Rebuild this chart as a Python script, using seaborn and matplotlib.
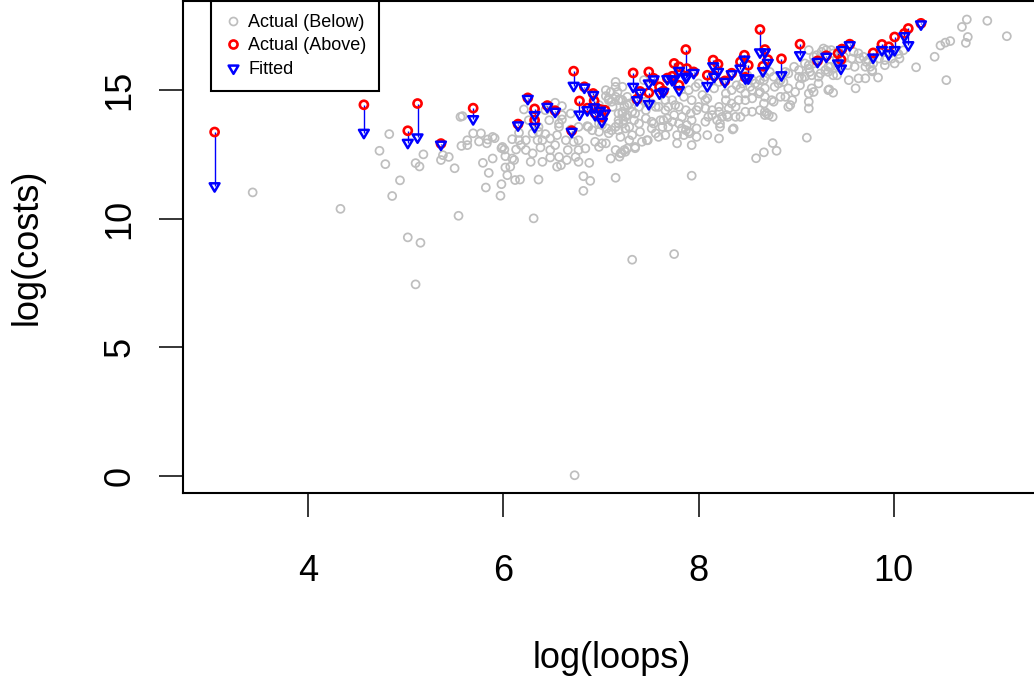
import numpy as np
import pandas as pd
import matplotlib
matplotlib.use("Agg")
import matplotlib.pyplot as plt
import seaborn as sns
from matplotlib.lines import Line2D
from matplotlib.path import Path

# ---------------- data (log scale values) ----------------
below_left = [
    (3.43, 11.02), (4.33, 10.38), (4.83, 13.29), (4.73, 12.64), (4.79, 12.12), (4.94, 11.49),
    (4.86, 10.88), (5.18, 12.50), (5.10, 12.16), (5.14, 12.03), (5.02, 9.27), (5.15, 9.06),
    (5.10, 7.44), (5.38, 12.47), (5.44, 12.40), (5.36, 12.28), (5.50, 11.96), (5.54, 10.11),
    (5.56, 13.96), (5.58, 13.99), (5.57, 12.83), (5.63, 13.05), (5.63, 12.86), (5.69, 13.32),
    (5.77, 13.32), (5.75, 13.00), (5.83, 12.93), (5.91, 13.13), (5.84, 13.08), (5.79, 12.17),
    (5.85, 11.78), (5.82, 11.21), (5.98, 11.34), (5.97, 10.89), (5.98, 12.74), (5.99, 12.79),
    (5.89, 12.34), (5.89, 13.18),
]
below_outliers = [
    (6.31, 10.01), (7.32, 8.40), (7.75, 8.62), (6.73, 0.01), (7.15, 11.59), (7.93, 11.67),
    (8.59, 12.35), (8.67, 12.58), (8.80, 12.64), (8.76, 12.94), (7.19, 12.41), (7.25, 12.60),
    (7.21, 12.56), (7.35, 12.74), (7.01, 12.93), (7.42, 12.99), (7.48, 13.05), (9.11, 13.15),
]
below_core_a = [
    (6.01, 12.69), (6.09, 13.09), (6.21, 14.25), (6.16, 13.34), (6.18, 12.86), (6.23, 12.67),
    (6.13, 12.69), (6.02, 12.43), (6.11, 12.28), (6.02, 11.99), (6.07, 12.02), (6.04, 11.69),
    (6.12, 11.50), (6.17, 11.52), (6.28, 12.21), (6.36, 11.52), (6.30, 12.54), (6.38, 12.77),
    (6.35, 13.05), (6.43, 13.29), (6.48, 13.12), (6.55, 13.25), (6.48, 12.67), (6.53, 12.86),
    (6.40, 12.21), (6.48, 12.38), (6.57, 12.40), (6.55, 12.02), (6.59, 12.08), (6.53, 14.51),
    (6.60, 14.38), (6.60, 13.86), (6.64, 13.05), (6.69, 13.47), (6.72, 12.99), (6.77, 13.05),
    (6.66, 12.67), (6.77, 12.67), (6.74, 12.40), (6.84, 12.73), (6.65, 12.28), (6.77, 12.21),
    (6.82, 11.65), (6.89, 11.47), (6.82, 11.08), (6.88, 12.17), (6.86, 13.60), (6.91, 13.44),
    (6.98, 13.38), (7.01, 13.64), (7.06, 13.51), (6.94, 12.99), (6.98, 12.79), (7.05, 12.93),
    (7.08, 13.32), (7.11, 13.44), (7.15, 13.57), (7.18, 13.70), (7.23, 13.83), (7.27, 14.03),
    (7.25, 13.51), (7.20, 13.18), (7.24, 12.67), (7.15, 12.67), (7.10, 12.34), (6.98, 14.42),
    (7.05, 14.77), (7.10, 14.93), (7.15, 15.13), (7.11, 14.55), (7.20, 14.64), (7.24, 14.38),
    (7.22, 14.16), (6.57, 13.70), (6.26, 13.83), (6.60, 14.03), (6.36, 13.38), (6.09, 12.34),
    (7.15, 15.32), (7.22, 15.13), (7.27, 14.74), (7.17, 14.93), (7.08, 14.68), (7.05, 15.00),
    (6.43, 14.22), (6.47, 13.83), (6.57, 13.57), (6.36, 13.57), (6.30, 13.32), (6.23, 13.05),
    (6.16, 13.05), (6.40, 13.05), (6.69, 14.09), (6.77, 13.57), (6.87, 13.57), (6.98, 13.70),
    (7.08, 14.61), (7.15, 14.74), (7.22, 14.61), (7.12, 14.35), (7.18, 14.09),
]
below_core_b = [
    (7.18, 14.61), (7.22, 14.09), (7.27, 14.42), (7.32, 14.16), (7.39, 14.35), (7.44, 15.39),
    (7.46, 14.55), (7.56, 14.35), (7.66, 14.61), (7.69, 14.35), (7.76, 14.42), (7.85, 14.74),
    (7.90, 15.00), (7.97, 15.13), (8.00, 15.26), (8.04, 14.81), (8.09, 14.68), (8.16, 15.07),
    (8.21, 15.32), (8.28, 14.87), (8.34, 15.00), (8.39, 15.19), (8.45, 15.26), (8.53, 15.13),
    (8.58, 15.26), (8.63, 15.39), (8.68, 15.52), (8.55, 14.68), (8.62, 14.87), (8.67, 14.48),
    (8.68, 14.03), (8.63, 14.22), (8.55, 14.16), (8.48, 14.61), (8.38, 14.35), (8.31, 14.29),
    (8.21, 14.16), (8.14, 14.03), (8.07, 14.29), (7.98, 14.22), (7.92, 14.09), (7.83, 13.96),
    (7.75, 14.03), (7.68, 13.90), (7.61, 13.83), (7.52, 13.77), (7.46, 13.90), (7.39, 13.70),
    (7.34, 13.83), (7.29, 13.57), (7.23, 13.70), (7.29, 13.05), (7.35, 12.79), (7.47, 13.05),
    (7.40, 13.38), (7.54, 13.70), (7.63, 13.57), (7.56, 13.32), (7.64, 13.83), (7.69, 13.57),
    (7.78, 13.25), (7.87, 13.44), (7.85, 13.25), (7.90, 13.38), (7.80, 13.70), (7.88, 13.64),
    (7.98, 13.51), (7.93, 13.83), (8.07, 13.77), (8.10, 13.96), (8.19, 13.83), (8.24, 13.96),
    (8.29, 14.03), (8.38, 13.96), (8.22, 13.57), (8.36, 13.51), (7.98, 13.18), (8.09, 13.25),
    (8.21, 13.12), (7.78, 12.93), (7.93, 12.86), (7.83, 13.51), (7.73, 13.77), (7.18, 13.83),
    (7.18, 13.44), (7.20, 12.54), (7.27, 12.73), (7.32, 13.25), (7.52, 13.51), (7.59, 13.18),
    (7.66, 13.25), (7.91, 13.32), (8.22, 13.70), (8.30, 13.96), (8.35, 13.47), (8.50, 15.58),
    (8.55, 15.39), (7.29, 14.48), (7.25, 13.96), (7.35, 14.09), (7.46, 14.22), (7.52, 14.48),
    (7.59, 14.35), (7.66, 14.22), (7.73, 14.61), (7.80, 14.35), (7.87, 14.22), (7.93, 14.61),
    (8.00, 14.35), (8.07, 14.61), (8.14, 14.22), (8.21, 14.35), (8.28, 14.61), (8.34, 14.48),
    (8.41, 14.61), (8.48, 14.87), (8.55, 15.00), (8.48, 14.16), (8.43, 13.96), (8.43, 15.07),
]
below_core_c = [
    (9.13, 16.56), (9.21, 16.36), (9.26, 16.49), (9.31, 16.56), (9.38, 16.43), (9.42, 16.23),
    (9.49, 16.30), (9.59, 16.49), (9.64, 16.43), (9.69, 16.30), (9.74, 16.17), (9.79, 16.04),
    (9.71, 15.91), (9.78, 15.78), (9.71, 15.46), (9.61, 15.07), (9.54, 15.39), (9.38, 14.90),
    (9.34, 15.03), (9.30, 15.78), (9.25, 15.65), (9.16, 15.58), (9.13, 15.84), (9.09, 16.04),
    (9.18, 16.04), (9.35, 15.91), (9.42, 15.58), (9.23, 15.26), (9.16, 15.07), (9.13, 14.87),
    (9.13, 14.55), (9.13, 14.29), (8.96, 14.61), (8.94, 14.42), (9.06, 15.46), (9.03, 15.78),
    (8.98, 15.91), (8.92, 15.65), (8.87, 15.32), (8.84, 14.74), (8.78, 15.13), (8.77, 14.55),
    (8.68, 15.07), (8.63, 14.93), (8.72, 14.03), (8.68, 14.16), (8.76, 13.96), (8.99, 14.93),
    (9.04, 15.19), (9.78, 15.73), (9.84, 15.49), (9.72, 16.10), (9.76, 15.91), (9.91, 16.17),
    (9.98, 16.23), (9.28, 16.62), (9.36, 16.56), (9.33, 15.00), (10.05, 16.40), (10.10, 16.55),
    (9.18, 16.30), (9.13, 15.97), (9.03, 15.52), (9.09, 15.52), (9.14, 15.71), (9.23, 15.52),
    (9.33, 15.71), (9.38, 15.58), (9.33, 15.91), (9.43, 15.91), (9.53, 15.97), (9.60, 15.91),
    (9.57, 16.23), (9.65, 16.23), (9.64, 15.46), (8.89, 15.71), (8.84, 15.39), (8.77, 15.52),
    (8.73, 15.71), (8.67, 15.39), (8.82, 15.26), (8.92, 15.07), (8.89, 14.74), (9.18, 14.93),
    (8.92, 14.35), (8.75, 14.61), (8.68, 14.74), (8.70, 14.09), (9.85, 16.23), (9.91, 15.97),
    (10.01, 16.04), (10.06, 16.23), (9.96, 16.43),
]
below_right = [
    (10.75, 17.75), (10.70, 17.46), (10.96, 17.70), (11.16, 17.10), (10.76, 17.07),
    (10.74, 16.84), (10.58, 16.91), (10.53, 16.85), (10.48, 16.74), (10.42, 16.30),
    (10.23, 15.89), (10.54, 15.39),
]

above_loops = [3.04, 4.57, 5.02, 5.12, 5.36, 5.69, 6.15, 6.25, 6.32, 6.32, 6.45, 6.53, 6.70,
               6.72, 6.78, 6.83, 6.86, 6.92, 6.93, 6.94, 6.99, 7.01, 7.04, 7.33, 7.37, 7.40,
               7.49, 7.49, 7.54, 7.60, 7.64, 7.68, 7.73, 7.75, 7.80, 7.80, 7.87, 7.88, 7.95,
               8.09, 8.15, 8.16, 8.20, 8.27, 8.34, 8.43, 8.47, 8.48, 8.51, 8.63, 8.66, 8.68,
               8.71, 8.85, 9.04, 9.22, 9.31, 9.43, 9.46, 9.47, 9.55, 9.79, 9.88, 9.95, 10.01,
               10.11, 10.15, 10.28]
above_costs = [13.37, 14.43, 13.42, 14.48, 12.92, 14.30, 13.68, 14.70, 14.27, 13.83, 14.40,
               14.20, 13.42, 15.74, 14.58, 15.13, 14.30, 14.87, 14.58, 14.10, 14.25, 13.95,
               14.22, 15.67, 14.65, 14.95, 15.71, 14.90, 15.46, 15.13, 14.97, 15.47, 15.54,
               16.04, 15.91, 15.19, 16.58, 15.84, 15.71, 15.58, 16.17, 15.56, 16.01, 15.36,
               15.66, 16.10, 16.36, 15.50, 15.97, 17.36, 15.93, 16.58, 16.19, 16.22, 16.79,
               16.14, 16.34, 16.43, 16.19, 16.60, 16.79, 16.45, 16.78, 16.69, 17.07, 17.21,
               17.40, 17.60]
fitted_costs = [11.26, 13.34, 12.95, 13.16, 12.88, 13.87, 13.63, 14.66, 14.03, 13.57, 14.35,
                14.16, 13.38, 15.17, 14.05, 15.10, 14.22, 14.81, 14.33, 14.03, 14.20, 13.77,
                14.09, 15.13, 14.61, 14.90, 15.26, 14.46, 15.42, 14.87, 14.93, 15.43, 15.39,
                15.42, 15.75, 15.00, 15.48, 15.52, 15.67, 15.16, 15.93, 15.52, 15.71, 15.32,
                15.62, 15.84, 16.19, 15.46, 15.46, 16.47, 15.74, 16.47, 16.06, 15.58, 16.36,
                16.10, 16.30, 16.04, 15.84, 16.56, 16.75, 16.27, 16.56, 16.40, 16.56, 17.10,
                16.75, 17.56]

x_ticks = [4, 6, 8, 10]
y_ticks = [0, 5, 10, 15]
legend_labels = ["Actual (Below)", "Actual (Above)", "Fitted"]
x_label = "log(loops)"
y_label = "log(costs)"

# ---------------- frames ----------------
below = pd.DataFrame(below_left + below_outliers + below_core_a + below_core_b
                     + below_core_c + below_right, columns=["loops", "costs"])
above = pd.DataFrame({"loops": above_loops, "costs": above_costs, "fitted": fitted_costs})

# ---------------- style ----------------
sns.set_style("white")
plt.rcParams["font.family"] = ["Liberation Sans", "DejaVu Sans"]
plt.rcParams["text.color"] = "black"
plt.rcParams["axes.labelcolor"] = "black"

GRAY = "#BEBEBE"
RED = "#FF0000"
BLUE = "#0000FF"

fig = plt.figure(figsize=(10.34, 6.79), dpi=100)
ax = fig.add_axes([183 / 1034, (679 - 493) / 679, (1040 - 183) / 1034, (493 - 1) / 679])

# down-pointing open triangle like R pch=6
tri = Path([(-1.0, 0.6), (1.0, 0.6), (0.0, -1.1), (-1.0, 0.6)],
           [Path.MOVETO, Path.LINETO, Path.LINETO, Path.CLOSEPOLY])

sns.scatterplot(data=below, x="loops", y="costs", ax=ax, marker="o", s=33,
                facecolor="none", edgecolor=GRAY, linewidth=1.25, zorder=2, legend=False)
ax.vlines(above["loops"], above["fitted"], above["costs"], colors=BLUE, linewidth=1.0, zorder=3)
sns.scatterplot(data=above, x="loops", y="costs", ax=ax, marker="o", s=34,
                facecolor="none", edgecolor=RED, linewidth=1.9, zorder=4, legend=False)
sns.scatterplot(data=above, x="loops", y="fitted", ax=ax, marker=tri, s=60,
                facecolor="none", edgecolor=BLUE, linewidth=1.8, zorder=5, legend=False)

ax.set_xlim(2.716, 11.50)
ax.set_ylim(-0.68, 18.47)
ax.set_xticks(x_ticks)
ax.set_yticks(y_ticks)
ax.set_xticklabels([str(t) for t in x_ticks])
ax.set_yticklabels([str(t) for t in y_ticks], rotation=90, va="center")

ax.tick_params(axis="both", direction="out", length=17, width=1.1, color="black",
               labelsize=26, labelcolor="black")
ax.tick_params(axis="x", pad=27, bottom=True)
ax.tick_params(axis="y", pad=16, left=True)

for sp in ax.spines.values():
    sp.set_color("black")
    sp.set_linewidth(1.5)

ax.set_xlabel(x_label, fontsize=26, color="black")
ax.set_ylabel(y_label, fontsize=26, color="black")
ax.xaxis.label.set_va("center")
ax.yaxis.label.set_va("center")
ax.xaxis.set_label_coords(0.5, (493 - 658) / 492)
ax.yaxis.set_label_coords((27 - 183) / 857, 0.5)

handles = [
    Line2D([], [], linestyle="none", marker="o", markersize=5.75, markerfacecolor="none",
           markeredgecolor=GRAY, markeredgewidth=1.25),
    Line2D([], [], linestyle="none", marker="o", markersize=5.8, markerfacecolor="none",
           markeredgecolor=RED, markeredgewidth=1.9),
    Line2D([], [], linestyle="none", marker=tri, markersize=7.7, markerfacecolor="none",
           markeredgecolor=BLUE, markeredgewidth=1.8),
]
leg = ax.legend(handles, legend_labels, loc="upper left", bbox_to_anchor=(0.0323, 1.0),
                borderaxespad=0, frameon=True, fancybox=False, edgecolor="black",
                framealpha=1, fontsize=13.0, handlelength=1.0, handletextpad=0.35,
                borderpad=0.72, labelspacing=0.36)
leg.get_frame().set_linewidth(1.5)
leg.set_zorder(10)
for t in leg.get_texts():
    t.set_color("black")

fig.savefig("out.png", dpi=100)
